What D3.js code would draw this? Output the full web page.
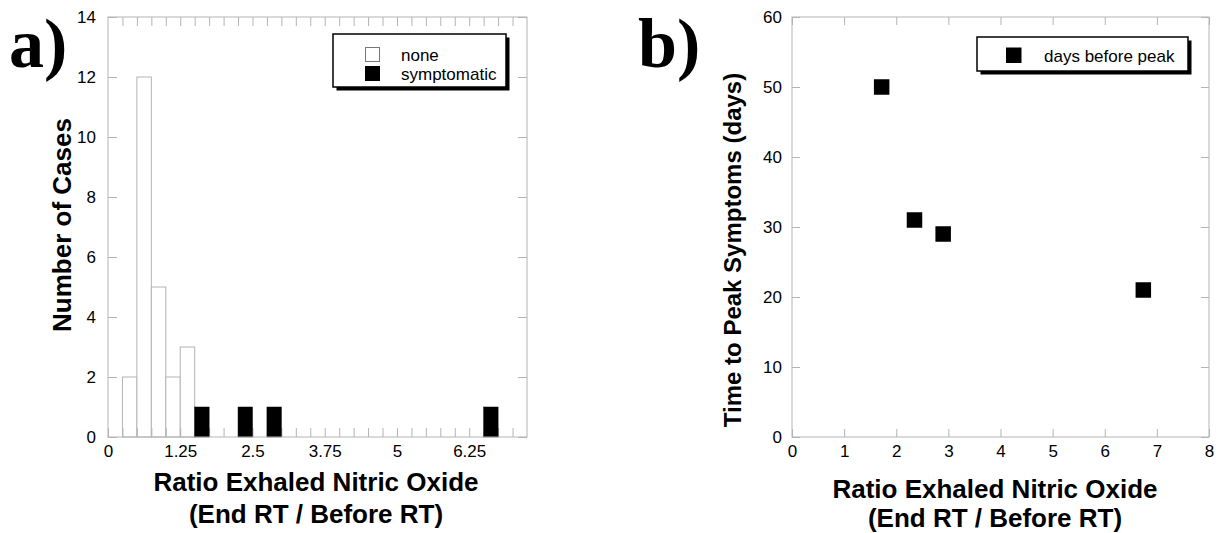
<!DOCTYPE html>
<html>
<head>
<meta charset="utf-8">
<script src="https://cdn.jsdelivr.net/npm/d3@7"></script>
<style>
  body { margin: 0; background: #fff; }
  svg { display: block; }
  text { font-family: "Liberation Sans", Arial, sans-serif; }
</style>
</head>
<body>
<svg id="chart" width="1223" height="533"></svg>
<script>
// ---- Data: panel a (histogram, bin width 0.25) ----
const noneBinStarts = [0.25, 0.5, 0.75, 1.0, 1.25];
const noneCounts    = [2, 12, 5, 2, 3];
const sympBinStarts = [1.5, 2.25, 2.75, 6.5];
const sympCounts    = [1, 1, 1, 1];
const binWidth = 0.25;
const histXLabels = [0, 1.25, 2.5, 3.75, 5, 6.25];
const histYTicks  = [0, 2, 4, 6, 8, 10, 12, 14];
const histLegend  = ["none", "symptomatic"];

// ---- Data: panel b (scatter) ----
const ratioValues = [1.72, 2.35, 2.9, 6.74];
const daysValues  = [50, 31, 29, 21];
const scatXTicks  = [0, 1, 2, 3, 4, 5, 6, 7, 8];
const scatYTicks  = [0, 10, 20, 30, 40, 50, 60];
const scatLegend  = ["days before peak"];

const svg = d3.select("#chart");
const gray = "#b4b4b4";
const tickFont = 17;

function frame(x0, x1, y0, y1) {
  svg.append("rect")
    .attr("x", x0).attr("y", y1)
    .attr("width", x1 - x0).attr("height", y0 - y1)
    .attr("fill", "none").attr("stroke", gray).attr("stroke-width", 1);
}

function styleAxis(g) {
  g.select(".domain").remove();
  g.selectAll(".tick line").attr("stroke", gray).attr("stroke-width", 1);
  g.selectAll(".tick text").attr("fill", "#000").style("font-size", tickFont + "px")
    .style("font-family", "'Liberation Sans', Arial, sans-serif");
}

function legend(x, y, w, h) {
  const g = svg.append("g");
  g.append("rect").attr("x", x + 3.5).attr("y", y + 3.5).attr("width", w).attr("height", h).attr("fill", "#000");
  g.append("rect").attr("x", x).attr("y", y).attr("width", w).attr("height", h)
    .attr("fill", "#fff").attr("stroke", "#000").attr("stroke-width", 1.5);
  return g;
}

// ================= Panel a =================
const xA = d3.scaleLinear().domain([0, 7.25]).range([108, 527]);
const yA = d3.scaleLinear().domain([0, 14]).range([437, 17]);

svg.append("g").selectAll("rect").data(noneBinStarts).join("rect")
  .attr("x", d => xA(d)).attr("width", d => xA(d + binWidth) - xA(d))
  .attr("y", (d, i) => yA(noneCounts[i])).attr("height", (d, i) => yA(0) - yA(noneCounts[i]))
  .attr("fill", "#fff").attr("stroke", gray).attr("stroke-width", 1);

const allTicksA = d3.range(1, 29).map(i => i * binWidth);
const labelSet = new Set(histXLabels.map(v => v.toFixed(2)));

svg.append("g").attr("transform", `translate(0,${yA(0)})`)
  .call(d3.axisBottom(xA).tickValues([0].concat(allTicksA)).tickSizeInner(-9).tickSizeOuter(0).tickPadding(8)
    .tickFormat(d => labelSet.has(d.toFixed(2)) ? String(d) : ""))
  .call(styleAxis);
svg.append("g").attr("transform", `translate(0,${yA(14)})`)
  .call(d3.axisTop(xA).tickValues(allTicksA).tickSizeInner(-9).tickSizeOuter(0).tickFormat(""))
  .call(styleAxis);
svg.append("g").attr("transform", `translate(${xA(0)},0)`)
  .call(d3.axisLeft(yA).tickValues(histYTicks).tickSizeInner(-9).tickSizeOuter(0).tickPadding(12))
  .call(styleAxis);
svg.append("g").attr("transform", `translate(${xA(7.25)},0)`)
  .call(d3.axisRight(yA).tickValues(histYTicks).tickSizeInner(-9).tickSizeOuter(0).tickFormat(""))
  .call(styleAxis);

svg.append("g").selectAll("rect").data(sympBinStarts).join("rect")
  .attr("x", d => xA(d)).attr("width", d => xA(d + binWidth) - xA(d))
  .attr("y", (d, i) => yA(sympCounts[i])).attr("height", (d, i) => yA(0) - yA(sympCounts[i]))
  .attr("fill", "#000").attr("stroke", "#000").attr("stroke-width", 0.5);

frame(xA(0), xA(7.25), yA(0), yA(14));

const lgA = legend(333, 34, 173, 53);
lgA.append("rect").attr("x", 365.5).attr("y", 47.5).attr("width", 14).attr("height", 14)
  .attr("fill", "#fff").attr("stroke", "#777").attr("stroke-width", 1);
lgA.append("rect").attr("x", 365).attr("y", 66).attr("width", 15).attr("height", 15).attr("fill", "#000");
lgA.append("text").attr("x", 401).attr("y", 61).style("font-size", "17px").text(histLegend[0]);
lgA.append("text").attr("x", 401).attr("y", 80).style("font-size", "17px").text(histLegend[1]);

svg.append("text").attr("transform", "translate(71,225) rotate(-90)").attr("text-anchor", "middle")
  .style("font-size", "26px").style("font-weight", "bold").text("Number of Cases");
svg.append("text").attr("x", 316).attr("y", 491).attr("text-anchor", "middle")
  .style("font-size", "26px").style("font-weight", "bold").text("Ratio Exhaled Nitric Oxide");
svg.append("text").attr("x", 316).attr("y", 523).attr("text-anchor", "middle")
  .style("font-size", "26px").style("font-weight", "bold").text("(End RT / Before RT)");
svg.append("text").attr("x", 9).attr("y", 67)
  .style("font-family", "'Liberation Serif', 'Times New Roman', serif")
  .style("font-size", "70px").style("font-weight", "bold").text("a)");

// ================= Panel b =================
const xB = d3.scaleLinear().domain([0, 8]).range([792, 1209]);
const yB = d3.scaleLinear().domain([0, 60]).range([437, 17]);

svg.append("g").attr("transform", `translate(0,${yB(0)})`)
  .call(d3.axisBottom(xB).tickValues(scatXTicks).tickSizeInner(-8).tickSizeOuter(0).tickPadding(8))
  .call(styleAxis);
svg.append("g").attr("transform", `translate(0,${yB(60)})`)
  .call(d3.axisTop(xB).tickValues(scatXTicks).tickSizeInner(-8).tickSizeOuter(0).tickFormat(""))
  .call(styleAxis);
svg.append("g").attr("transform", `translate(${xB(0)},0)`)
  .call(d3.axisLeft(yB).tickValues(scatYTicks).tickSizeInner(-8).tickSizeOuter(0).tickPadding(10))
  .call(styleAxis);
svg.append("g").attr("transform", `translate(${xB(8)},0)`)
  .call(d3.axisRight(yB).tickValues(scatYTicks).tickSizeInner(-8).tickSizeOuter(0).tickFormat(""))
  .call(styleAxis);

frame(xB(0), xB(8), yB(0), yB(60));

const sq = 15.5;
svg.append("g").selectAll("rect").data(ratioValues).join("rect")
  .attr("x", d => xB(d) - sq / 2).attr("y", (d, i) => yB(daysValues[i]) - sq / 2)
  .attr("width", sq).attr("height", sq).attr("fill", "#000");

const lgB = legend(977, 37, 211, 34);
lgB.append("rect").attr("x", 1006).attr("y", 47.5).attr("width", 15.5).attr("height", 15.5).attr("fill", "#000");
lgB.append("text").attr("x", 1044).attr("y", 61.5).style("font-size", "17px").text(scatLegend[0]);

svg.append("text").attr("transform", "translate(741,250) rotate(-90)").attr("text-anchor", "middle")
  .style("font-size", "24px").style("font-weight", "bold").text("Time to Peak Symptoms (days)");
svg.append("text").attr("x", 995).attr("y", 498).attr("text-anchor", "middle")
  .style("font-size", "26px").style("font-weight", "bold").text("Ratio Exhaled Nitric Oxide");
svg.append("text").attr("x", 995).attr("y", 527).attr("text-anchor", "middle")
  .style("font-size", "26px").style("font-weight", "bold").text("(End RT / Before RT)");
svg.append("text").attr("x", 638).attr("y", 67)
  .style("font-family", "'Liberation Serif', 'Times New Roman', serif")
  .style("font-size", "70px").style("font-weight", "bold").text("b)");
</script>
</body>
</html>
